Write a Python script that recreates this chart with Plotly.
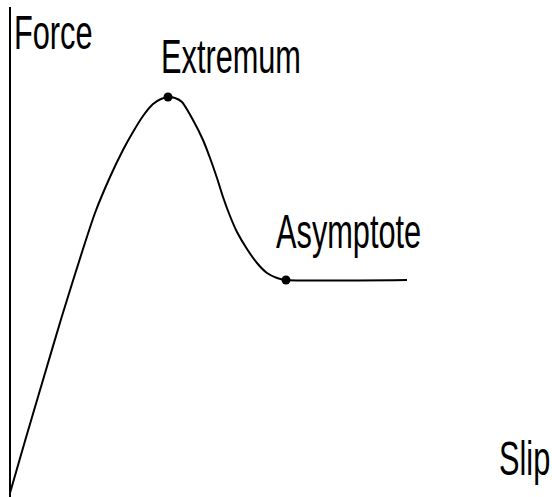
import plotly.graph_objects as go

# Force-slip curve (arbitrary units)
slip = [0, 15, 33, 52, 73, 85, 100, 113, 123, 133, 143, 151, 158,
        165, 172, 183, 193, 200, 207, 213, 220, 227, 237, 247, 257, 267, 276, 397]
force = [0, 52, 113, 177, 244, 280, 316, 343, 361, 377, 389, 394, 396,
         395, 391, 373, 353, 335, 315, 296, 277, 261, 244, 230, 220, 215, 213, 213]

# marked points
point_slip = [158, 276]
point_force = [396, 213]

# labels
label_text = ["Force", "Extremum", "Asymptote", "Slip"]
label_x = [3, 150, 265, 488]
label_y = [461, 437, 262, 35]

fig = go.Figure()
fig.add_trace(go.Scatter(x=slip, y=force, mode="lines",
                         line=dict(color="black", width=2, shape="spline", smoothing=0.6),
                         hoverinfo="skip", showlegend=False))
fig.add_trace(go.Scatter(x=point_slip, y=point_force, mode="markers",
                         marker=dict(color="black", size=9),
                         hoverinfo="skip", showlegend=False))

for t, x, y in zip(label_text, label_x, label_y):
    fig.add_annotation(x=x, y=y, xref="x", yref="y", text=t, showarrow=False,
                       xanchor="left", yanchor="middle", borderpad=0,
                       font=dict(family="Liberation Sans, Arial, sans-serif", size=48, color="black"))

fig.update_layout(
    width=552, height=497,
    margin=dict(l=0, r=0, t=7, b=0),
    paper_bgcolor="white", plot_bgcolor="white",
    xaxis=dict(range=[-10, 542], showgrid=False, showticklabels=False, ticks="",
               zeroline=True, zerolinecolor="black", zerolinewidth=2, showline=False),
    yaxis=dict(range=[-4, 486], showgrid=False, showticklabels=False, ticks="",
               zeroline=False, showline=False),
)

post = """
document.body.style.margin = '0';
document.querySelectorAll('.annotation-text').forEach(function (t) {
  t.style.transformBox = 'fill-box';
  t.style.transformOrigin = '0% 50%';
  t.style.transform = 'scaleX(0.64)';
});
"""

fig.write_html("out.html", post_script=post, config={"displayModeBar": False})
